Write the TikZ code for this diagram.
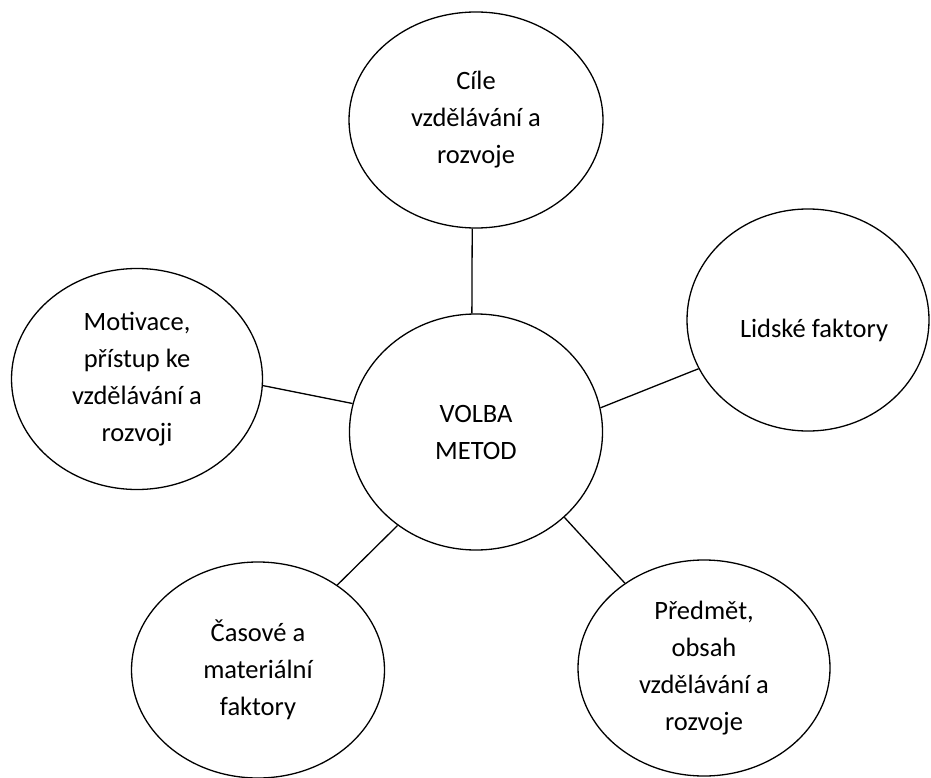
\documentclass[tikz,border=0pt]{standalone}
\usepackage{fontspec}
\setmainfont{Carlito}
\usetikzlibrary{shapes.geometric}
\tikzset{
  bub/.style={draw=black, line width=1.3pt, ellipse, inner sep=0pt, align=center,
    font=\fontsize{26.5}{37}\selectfont, text=black},
  link/.style={draw=black, line width=1.3pt}
}
\begin{document}
\begin{tikzpicture}[x=1pt,y=-1pt]
\useasboundingbox[fill=white] (0,0) rectangle (931,778);
\node[bub, minimum width=254, minimum height=216] (goal) at (476,120) {Cíle\\vzdělávání a\\rozvoje};
\node[bub, minimum width=253, minimum height=236] (main) at (476,432) {VOLBA\\METOD};
\node[bub, minimum width=251, minimum height=221] (motiv) at (137,379) {Motivace,\\přístup ke\\vzdělávání a\\rozvoji};
\node[bub, minimum width=242, minimum height=222] (human) at (808,320) {\raisebox{-17pt}[0pt][0pt]{\hspace{12pt}Lidské faktory}};
\node[bub, minimum width=253, minimum height=216] (time) at (258,670) {Časové a\\materiální\\faktory};
\node[bub, minimum width=252, minimum height=216] (subj) at (704,668) {Předmět,\\obsah\\vzdělávání a\\rozvoje};
\draw[link] (goal.-92) -- (main.92);
\draw[link] (motiv.-3) -- (main.167.6);
\draw[link] (human.204.6) -- (main.11.7);
\draw[link] (time.47) -- (main.230.3);
\draw[link] (subj.133.6) -- (main.-44);
\end{tikzpicture}
\end{document}
